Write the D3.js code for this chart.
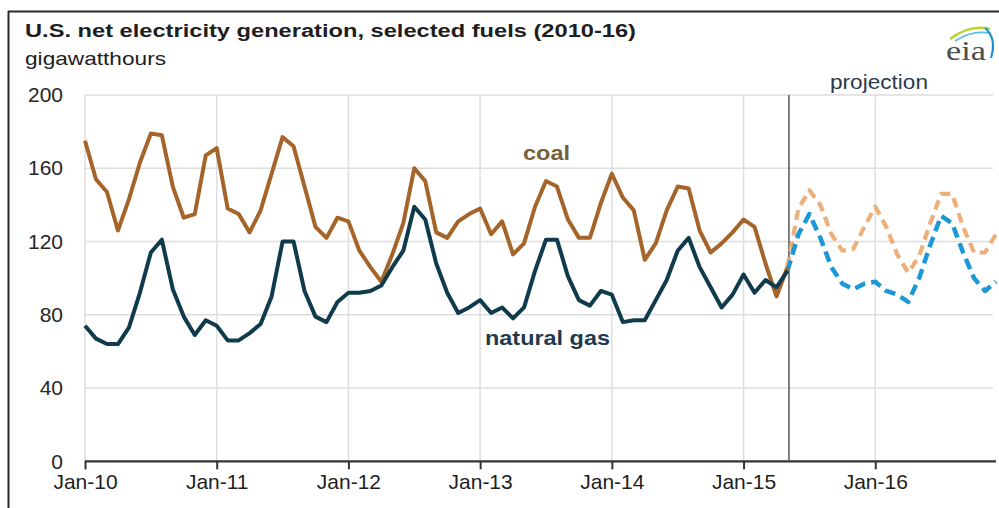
<!DOCTYPE html>
<html>
<head>
<meta charset="utf-8">
<script src="https://cdn.jsdelivr.net/npm/d3@7"></script>
<style>
  html, body { margin: 0; padding: 0; background: #fff; }
  svg { display: block; }
  text { font-family: "Liberation Sans", Arial, sans-serif; }
</style>
</head>
<body>
<svg id="chart" width="999" height="508"></svg>
<script>
// ---- data (monthly, starting Jan-2010) ----
const startYear = 2010;
const coalHistory = [
  175, 154, 147, 126, 143, 163, 179, 178, 150, 133, 135, 167,
  171, 138, 135, 125, 137, 157, 177, 172, 150, 128, 122, 133,
  131, 115, 106, 98, 113, 130, 160, 153, 125, 122, 131, 135,
  138, 124, 131, 113, 119, 139, 153, 150, 132, 122, 122, 141,
  157, 144, 137, 110, 119, 137, 150, 149, 126, 114, 119, 125,
  132, 128, 108, 90, 106
];
const gasHistory = [
  74, 67, 64, 64, 73, 92, 114, 121, 94, 79, 69, 77,
  74, 66, 66, 70, 75, 90, 120, 120, 93, 79, 76, 87,
  92, 92, 93, 96, 106, 115, 139, 132, 108, 92, 81, 84,
  88, 81, 84, 78, 84, 104, 121, 121, 101, 88, 85, 93,
  91, 76, 77, 77, 88, 99, 115, 122, 106, 95, 84, 91,
  102, 92, 99, 95, 104
];
// projections start at May-2015 (month index 64)
const projectionStart = 64;
const coalProjection = [
  106, 138, 148, 140, 124, 115, 116, 128,
  139, 128, 113, 103, 112, 130, 146, 146, 128, 114, 114, 124
];
const gasProjection = [
  104, 124, 135, 122, 106, 97, 94, 97,
  98, 93, 91, 87, 100, 118, 134, 130, 114, 100, 93, 98
];
const tickMonths = [0, 12, 24, 36, 48, 60, 72];
const tickLabels = ["Jan-10", "Jan-11", "Jan-12", "Jan-13", "Jan-14", "Jan-15", "Jan-16"];
const yTicks = [0, 40, 80, 120, 160, 200];
const totalMonths = 84;

// ---- drawing ----
const svg = d3.select("#chart");
const x = d3.scaleLinear().domain([0, totalMonths - 1]).range([85, 996]);
const y = d3.scaleLinear().domain([0, 200]).range([461.3, 95]);

// frame
svg.append("line").attr("x1", 8).attr("x2", 999).attr("y1", 11.5).attr("y2", 11.5)
  .attr("stroke", "#2a2a2a").attr("stroke-width", 2);
svg.append("line").attr("x1", 8.5).attr("x2", 8.5).attr("y1", 11).attr("y2", 508)
  .attr("stroke", "#2a2a2a").attr("stroke-width", 2);

// title
svg.append("text").attr("x", 25).attr("y", 37)
  .attr("font-size", 18).attr("font-weight", "bold").attr("fill", "#1e1e1e")
  .attr("textLength", 611).attr("lengthAdjust", "spacingAndGlyphs")
  .text("U.S. net electricity generation, selected fuels (2010-16)");
svg.append("text").attr("x", 25).attr("y", 65)
  .attr("font-size", 19).attr("fill", "#1e1e1e")
  .attr("textLength", 141).attr("lengthAdjust", "spacingAndGlyphs")
  .text("gigawatthours");

// eia logo
const logo = svg.append("g");
logo.append("path").attr("d", "M950,39 Q970,24 990,29").attr("fill", "none")
  .attr("stroke", "#b9d532").attr("stroke-width", 2.5);
logo.append("path").attr("d", "M955,41 Q972,30 989,33").attr("fill", "none")
  .attr("stroke", "#5cc0e6").attr("stroke-width", 1.8);
logo.append("path").attr("d", "M985,28 Q997,38 991,58").attr("fill", "none")
  .attr("stroke", "#1f8fd0").attr("stroke-width", 2.2);
logo.append("text").attr("x", 946).attr("y", 60)
  .attr("font-size", 27).attr("fill", "#4d4d4d")
  .attr("textLength", 40).attr("lengthAdjust", "spacingAndGlyphs")
  .style("font-family", "'Liberation Serif', 'DejaVu Serif', serif")
  .text("eia");

// gridlines
svg.append("g").selectAll("line").data(yTicks.filter(d => d > 0)).join("line")
  .attr("x1", x(0)).attr("x2", 993)
  .attr("y1", d => y(d)).attr("y2", d => y(d))
  .attr("stroke", "#dedede").attr("stroke-width", 1.5);
svg.append("g").selectAll("line").data(tickMonths).join("line")
  .attr("x1", d => x(d)).attr("x2", d => x(d))
  .attr("y1", y(200)).attr("y2", y(0))
  .attr("stroke", "#dedede").attr("stroke-width", 1.5);

// y axis labels
const yAxis = d3.axisLeft(y).tickValues(yTicks).tickSize(0).tickPadding(0);
const yg = svg.append("g").attr("transform", "translate(63,0)").call(yAxis);
yg.select(".domain").remove();
yg.selectAll("text").attr("font-size", 21).attr("fill", "#262626")
  .attr("font-family", "'Liberation Sans', Arial, sans-serif");

// x axis
const xAxis = d3.axisBottom(x).tickValues(tickMonths)
  .tickFormat((d, i) => tickLabels[i]).tickSize(8).tickSizeOuter(0).tickPadding(5);
const xg = svg.append("g").attr("transform", `translate(0,${y(0)})`).call(xAxis);
xg.select(".domain").attr("stroke", "#333").attr("stroke-width", 2.2)
  .attr("d", `M${x(0)},0H${x(totalMonths - 1)}`);
xg.selectAll(".tick line").attr("stroke", "#333").attr("stroke-width", 2);
xg.selectAll("text").attr("font-size", 21).attr("fill", "#1e1e1e")
  .attr("font-family", "'Liberation Sans', Arial, sans-serif");

// projection divider
svg.append("line").attr("x1", x(projectionStart) + 1.5).attr("x2", x(projectionStart) + 1.5)
  .attr("y1", y(200)).attr("y2", y(0))
  .attr("stroke", "#555").attr("stroke-width", 1.5);
svg.append("text").attr("x", 879).attr("y", 89).attr("text-anchor", "middle")
  .attr("font-size", 20).attr("fill", "#2b3a4e")
  .attr("textLength", 98).attr("lengthAdjust", "spacingAndGlyphs")
  .text("projection");

// lines
const line = d3.line().x(d => x(d.i)).y(d => y(d.v));
const toPts = (arr, off) => arr.map((v, k) => ({ i: k + off, v }));

svg.append("path").datum(toPts(coalProjection, projectionStart)).attr("d", line)
  .attr("fill", "none").attr("stroke", "#eeb07a").attr("stroke-width", 4.2)
  .attr("stroke-dasharray", "10,6").attr("stroke-linejoin", "round");
svg.append("path").datum(toPts(gasProjection, projectionStart)).attr("d", line)
  .attr("fill", "none").attr("stroke", "#1d98d6").attr("stroke-width", 4.5)
  .attr("stroke-dasharray", "11,6").attr("stroke-linejoin", "round");
svg.append("path").datum(toPts(coalHistory, 0)).attr("d", line)
  .attr("fill", "none").attr("stroke", "#a5642a").attr("stroke-width", 4)
  .attr("stroke-linejoin", "round");
svg.append("path").datum(toPts(gasHistory, 0)).attr("d", line)
  .attr("fill", "none").attr("stroke", "#0f3b4c").attr("stroke-width", 4)
  .attr("stroke-linejoin", "round");

// series labels
svg.append("text").attr("x", 523).attr("y", 160)
  .attr("font-size", 21).attr("font-weight", "bold").attr("fill", "#75623a")
  .attr("textLength", 47).attr("lengthAdjust", "spacingAndGlyphs")
  .text("coal");
svg.append("text").attr("x", 485).attr("y", 345)
  .attr("font-size", 21).attr("font-weight", "bold").attr("fill", "#1e3a50")
  .attr("textLength", 125).attr("lengthAdjust", "spacingAndGlyphs")
  .text("natural gas");
</script>
</body>
</html>
